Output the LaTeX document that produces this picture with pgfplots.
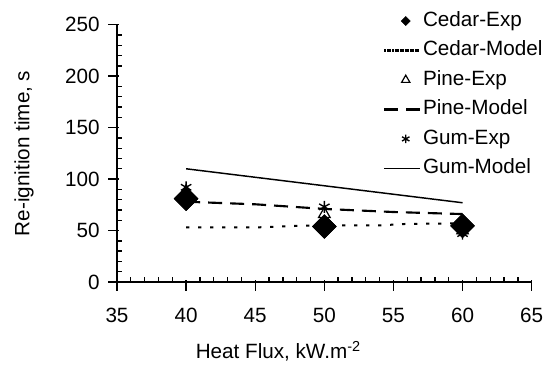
\documentclass[border=0pt]{standalone}
\usepackage{pgfplots}
\pgfplotsset{compat=1.18}
\usepackage{fontspec}
\setmainfont{Liberation Sans}
\begin{document}
\begin{tikzpicture}
\begin{axis}[
  at={(0,0)}, anchor=south west,
  scale only axis, width=311pt, height=193pt,
  xmin=35, xmax=65, ymin=0, ymax=250,
  xtick={35,40,...,65}, ytick={0,50,...,250},
  minor x tick num=4, minor y tick num=4,
  axis x line*=bottom, axis y line*=left,
  axis line style={line width=1.2pt, -},
  every tick/.style={black, line width=1pt},
  tick align=center,
  major tick length=8pt, minor tick length=3.4pt,
  every major x tick/.append style={yshift=-2.6pt},
  every minor x tick/.append style={yshift=1.7pt},
  every major y tick/.append style={xshift=-2.6pt},
  every minor y tick/.append style={xshift=1.7pt},
  font=\fontsize{15.5}{18}\selectfont,
  /pgf/number format/assume math mode=true,
  ticklabel style={font=\fontsize{15.5}{18}\selectfont},
  xticklabel style={yshift=-12pt},
  yticklabel style={xshift=-5.5pt},
  xlabel={Heat Flux, kW.m\textsuperscript{-2}},
  ylabel={Re-ignition time, s},
  every axis x label/.style={at={(axis description cs:0.389,-0.268)}, anchor=center},
  every axis y label/.style={at={(axis description cs:-0.224,0.5)}, anchor=center, rotate=90},
  legend style={draw=none, fill=none, inner sep=0pt, at={(rel axis cs:0.641,1.054)}, anchor=north west,
    font=\fontsize{15.5}{18}\selectfont, row sep=7.1pt,
    nodes={inner sep=0pt, text height=11.5pt, text depth=3.5pt}},
  legend cell align=left,
  /tikz/every odd column/.append style={column sep=1.5pt},
  legend image code/.code={\draw[mark repeat=2,mark phase=2,#1] plot coordinates {(0pt,0pt)(16pt,0pt)(26.5pt,0pt)};},
]
\addplot[only marks, mark=square*, mark options={rotate=45, fill=black}, mark size=6.3pt,
  legend image post style={mark size=2.4pt}]
  coordinates {(40,81) (50,54) (60,54.5)};
\addlegendentry{Cedar-Exp}
\addplot[black, line width=1.5pt, dash pattern=on 2.5pt off 6.5pt,
  legend image post style={line width=2pt, dash pattern=on 1.5pt off 0.4pt}]
  coordinates {(40,53) (45,53) (48,54.5) (50,55) (54,55) (56,56.5) (60,57)};
\addlegendentry{Cedar-Model}
\addplot[only marks, mark=triangle*, mark options={fill=white, line width=0.9pt}, mark size=5pt,
  legend image post style={mark size=3.6pt}]
  coordinates {(40,88) (50,66) (60,50)};
\addlegendentry{Pine-Exp}
\addplot[black, line width=1.6pt, dash pattern=on 10.5pt off 6pt,
  legend image post style={line width=2pt, dash pattern=on 10pt off 6.5pt}]
  coordinates {(40,78) (45,75.5) (50,71) (55,68) (60,66)};
\addlegendentry{Pine-Model}
\addplot[only marks, mark=asterisk, mark options={line width=1pt}, mark size=4.5pt,
  legend image post style={mark size=3.2pt, line width=1.1pt}]
  coordinates {(40,92) (50,73) (60,47)};
\addlegendentry{Gum-Exp}
\addplot[black, line width=1.1pt]
  coordinates {(40,110) (50,93.5) (60,77)};
\addlegendentry{Gum-Model}
\addplot[only marks, mark=square*, mark options={rotate=45, fill=black}, mark size=6.3pt, forget plot]
  coordinates {(40,81) (50,54) (60,54.5)};
\end{axis}
\pgfresetboundingbox
\path[use as bounding box] (-87.75pt,-62.25pt) rectangle (323.25pt,211.5pt);
\end{tikzpicture}
\end{document}
